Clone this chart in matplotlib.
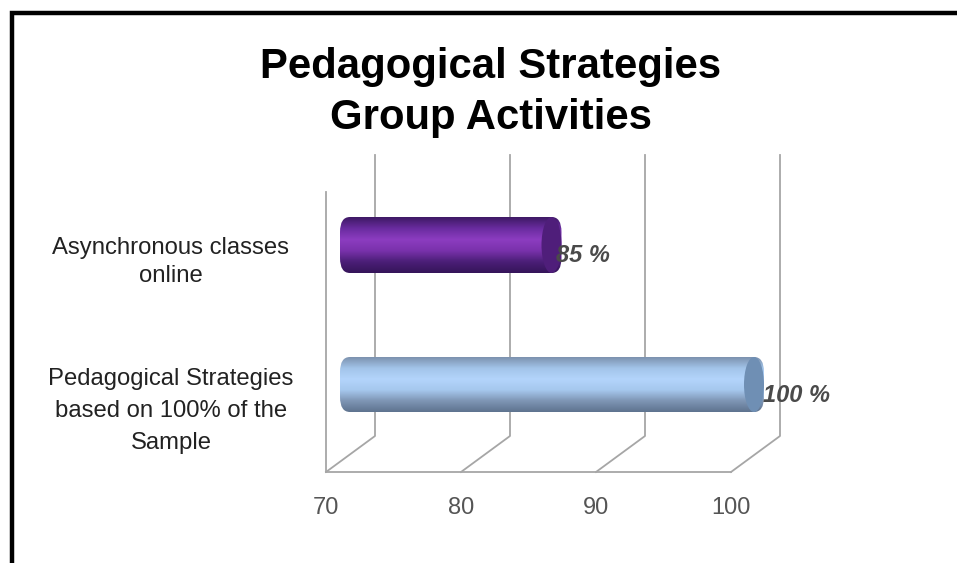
import matplotlib
matplotlib.use('Agg')
import matplotlib.pyplot as plt
import numpy as np
from matplotlib.colors import LinearSegmentedColormap
from matplotlib.patches import Ellipse, FancyBboxPatch

plt.rcParams['font.family'] = ['Liberation Sans', 'DejaVu Sans']

# Data
categories = ['Asynchronous classes\nonline',
              'Pedagogical Strategies\nbased on 100% of the\nSample']
values = [85, 100]
value_labels = ['85 %', '100 %']
ticks = [70, 80, 90, 100]

# Layout is in image pixels
W, H = 957, 563
X0, X1 = 326, 731       # front floor edge
FLOOR = 472
DX, DY = 49, 36         # depth of the 3d box
PX = (X1 - X0) / (ticks[-1] - ticks[0])

bar_top = [217, 357]
bar_bottom = [273, 412]
label_y = [262, 411]
label_spacing = [1.36, 1.56]
value_y = [255, 395]
value_shift = [-5, -1]
bar_colors = [['#3f1a66', '#6a2ca0', '#8c3cc0', '#7a32ac', '#4c1f78', '#35145a'],
              ['#7d93b0', '#a3c5ea', '#b3d4fb', '#a6c8ee', '#7f96b5', '#5f7490']]
cap_colors = ['#4f1e7a', '#6f8fb4']
GRID = '#a6a6a6'

# axes fill the figure, x is in data units, y in image pixels
fig = plt.figure(figsize=(W / 100, H / 100), dpi=100)
ax = fig.add_axes([0, 0, 1, 1])
xlim = (ticks[0] - X0 / PX, ticks[0] + (W - X0) / PX)
ax.set_xlim(xlim)
ax.set_ylim(H, 0)
ax.axis('off')


def px(dx):
    return dx / PX


# black frame, only left and top are in the image
fig.add_artist(plt.Line2D([12 / W, 12 / W, 1], [0, 1 - 13 / H, 1 - 13 / H],
                          color='black', lw=3.2, solid_joinstyle='miter'))

# walls and floor
for t in ticks:
    ax.plot([t, t + px(DX), t + px(DX)], [FLOOR, FLOOR - DY, 155], color=GRID, lw=1.3)
ax.plot([ticks[0], ticks[-1]], [FLOOR, FLOOR], color=GRID, lw=1.3)
ax.plot([ticks[0], ticks[0]], [FLOOR, 192], color=GRID, lw=1.3)

# cylinders
for i, v in enumerate(values):
    left = ticks[0] + px(14)
    right = v + px(33)
    top, bottom = bar_top[i], bar_bottom[i]
    cmap = LinearSegmentedColormap.from_list('cyl', bar_colors[i])
    im = ax.imshow(np.linspace(0, 1, 64).reshape(-1, 1), cmap=cmap, aspect='auto',
                   extent=(left, right, bottom, top), zorder=3)
    clip = FancyBboxPatch((left, top), right - left, bottom - top,
                          boxstyle='round,pad=0,rounding_size=%f' % px(10),
                          mutation_aspect=PX * 1.5, transform=ax.transData,
                          fc='none', ec='none')
    ax.add_patch(clip)
    im.set_clip_path(clip)
    ax.add_patch(Ellipse((right - px(10), (top + bottom) / 2), px(20), bottom - top,
                         fc=cap_colors[i], ec='none', zorder=4))
    ax.text(right + px(value_shift[i]), value_y[i], value_labels[i], fontsize=17,
            style='italic', weight='bold', color='#4a4a4a', va='center', ha='left', zorder=5)
    ax.text(ticks[0] + px(171 - X0), label_y[i], categories[i], fontsize=17.2,
            color='#222222', ha='center', va='center', linespacing=label_spacing[i])

ax.set_xlim(xlim)
ax.set_ylim(H, 0)

# tick labels
for t in ticks:
    ax.text(t, 508, str(t), fontsize=17, color='#555555', ha='center', va='center')

# title
fig.text(491 / W, 1 - 67 / H, 'Pedagogical Strategies', fontsize=30.2, weight='bold',
         color='black', ha='center', va='center')
fig.text(491 / W, 1 - 118 / H, 'Group Activities', fontsize=30.2, weight='bold',
         color='black', ha='center', va='center')

fig.savefig('out.png', dpi=100)
